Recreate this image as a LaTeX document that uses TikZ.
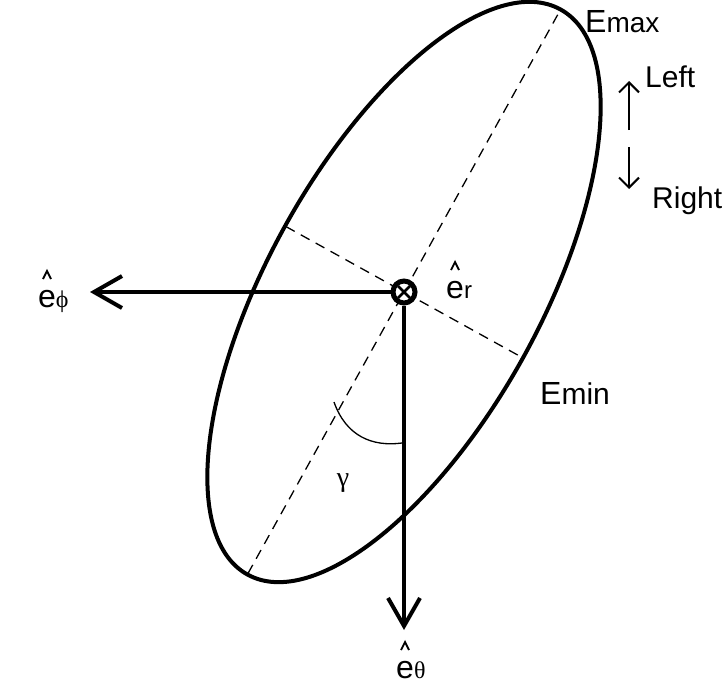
\documentclass[tikz,border=0pt]{standalone}
\usepackage{fontspec}
\setmainfont{Liberation Sans}
\newfontfamily\grk{Liberation Serif}
\usetikzlibrary{arrows.meta}

\newcommand{\lbig}[1]{{\fontsize{32}{36}\selectfont #1}}
\newcommand{\lsml}[1]{{\fontsize{24}{28}\selectfont #1}}

\begin{document}
\begin{tikzpicture}[x=1pt,y=-1pt,
    unitvec/.style={line width=4pt,-{Straight Barb[length=28pt,width=32pt,line width=4pt]}},
    flip/.style={line width=2pt,-{Straight Barb[length=10pt,width=20pt,line width=2pt]}},
    axisline/.style={line width=1.3pt,dash pattern=on 10pt off 7pt},
    hatmark/.style={line width=1.8pt,line join=miter},
    lab/.style={anchor=base west, inner sep=0pt}]
  \useasboundingbox (0,0) rectangle (728,688);

  % polarisation ellipse
  \begin{scope}[shift={(404,292)},rotate=61]
    \draw [axisline] (-322,0) -- (322,0);
    \draw [axisline] (0,-135) -- (0,135);
    \draw [line width=4pt] (0,0) ellipse [x radius=323, y radius=136];
  \end{scope}

  % unit vectors
  \coordinate (phiend) at (90,292);
  \coordinate (thend) at (404,630);
  \node [circle, draw, fill=white, line width=5pt, minimum size=22pt, inner sep=0pt] (er) at (404,292) {};
  \draw [unitvec] (er.west) -- (phiend);
  \draw [unitvec] (er.south) -- (thend);
  \draw [line width=2.5pt] (er.center) ++(-6,-6) -- ++(12,12);
  \draw [line width=2.5pt] (er.center) ++(6,-6) -- ++(-12,12);

  % angle
  \draw [line width=1.3pt] (334,402) .. controls (346,436) and (372,447) .. (402,443);
  \node [anchor=base] (gam) at (343,486) {\grk\fontsize{28}{32}\selectfont γ};

  % labels
  \node [lab] (lphi) at (38,307) {\lbig{e}\lsml{\grk ϕ}};
  \node [lab] (lr) at (446,298) {\lbig{e}\lsml{r}};
  \node [lab] (lth) at (396,678) {\lbig{e}\lsml{\grk θ}};
  \foreach \v in {lphi,lr,lth}
    \draw [hatmark] (\v.base west) ++(5,-28) -- ++(4,-8) -- ++(4,8);
  \node [lab] (emax) at (585,32) {\fontsize{32}{36}\selectfont E\fontsize{28}{32}\selectfont max};
  \node [lab] (emin) at (540,404) {\fontsize{32}{36}\selectfont E\fontsize{30}{34}\selectfont min};
  \node [lab] (left) at (645,87) {\fontsize{30}{34}\selectfont Left};
  \node [lab] (right) at (652,208) {\fontsize{30}{34}\selectfont Right};
  \draw [flip] (629,130) -- (629,81);
  \draw [flip] (629,147) -- (629,189);
\end{tikzpicture}
\end{document}
